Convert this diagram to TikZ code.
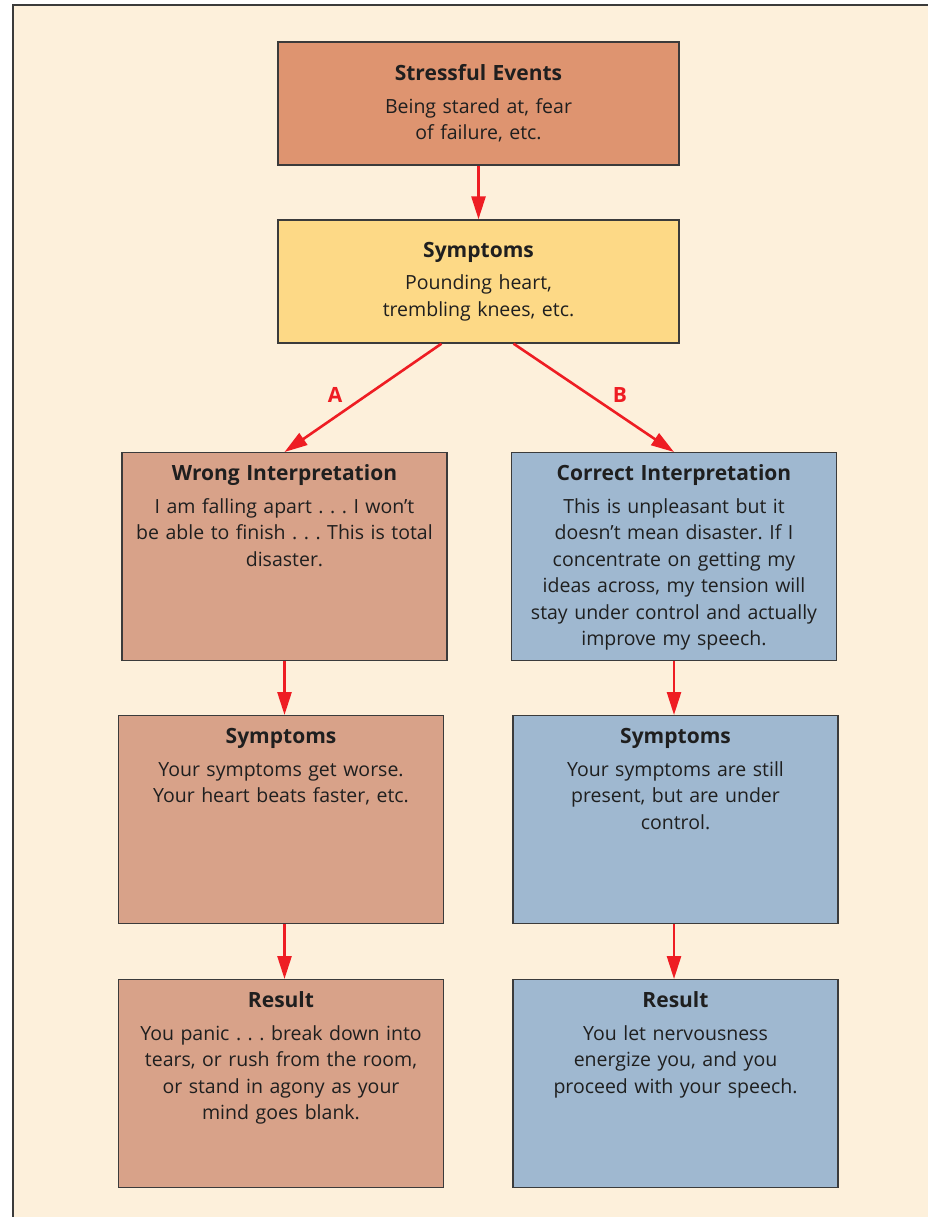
\documentclass[tikz,border=0pt]{standalone}
\usepackage{fontspec}
\setmainfont{Open Sans}
\usepackage{tikz}
\usetikzlibrary{arrows.meta}
\frenchspacing

\definecolor{bgcream}{HTML}{FDF0DB}
\definecolor{framegray}{HTML}{3B3B3B}
\definecolor{eventorange}{HTML}{DE9470}
\definecolor{symyellow}{HTML}{FDD986}
\definecolor{wrongbrown}{HTML}{D8A289}
\definecolor{rightblue}{HTML}{9FB8D0}
\definecolor{arrowred}{HTML}{EE1D23}
\newcommand{\boxtitle}[1]{{\fontsize{21}{26.5}\selectfont\bfseries #1}}

\tikzset{
	box/.style={draw=framegray, line width=1.3pt, rectangle, align=center, inner xsep=4pt,
		font=\fontsize{19.5}{26.5}\selectfont, text=black!88},
	widebox/.style={box, minimum width=401pt, minimum height=123pt, text width=393pt},
	tallbox/.style={box, anchor=north, minimum width=325pt, text width=317pt,
		inner ysep=6pt, text height=22pt, text depth=174pt},
	flow/.style={draw=arrowred, line width=2.6pt, -{Triangle[length=23pt,width=14pt]}},
	branch/.style={text=arrowred, font=\fontsize{21}{22}\selectfont\bfseries}
}

\begin{document}
\begin{tikzpicture}[x=1pt, y=-1pt]
	\path[use as bounding box] (0,0) rectangle (927,1217);
	\filldraw[fill=bgcream, draw=framegray, line width=2pt] (12.5,5.5) rectangle (940,1230);
	% top of the chart
	\node[widebox, fill=eventorange] (events) at (478.5,103.5) {\boxtitle{Stressful Events}\\[6pt]Being stared at, fear\\of failure, etc.};
	\node[widebox, fill=symyellow] (symptoms) at (478.5,281.5) {\boxtitle{Symptoms}\\[6pt]Pounding heart,\\trembling knees, etc.};
	% path A
	\node[tallbox, fill=wrongbrown] (wrong) at (284.5,452) {\boxtitle{Wrong Interpretation}\\[6pt]I am falling apart . . . I won’t\\be able to finish . . . This is total\\disaster.};
	\node[tallbox, fill=wrongbrown] (worse) at (281,715) {\boxtitle{Symptoms}\\[6pt]Your symptoms get worse.\\Your heart beats faster, etc.};
	\node[tallbox, fill=wrongbrown] (panic) at (281,979) {\boxtitle{Result}\\[6pt]You panic . . . break down into\\tears, or rush from the room,\\or stand in agony as your\\mind goes blank.};
	% path B
	\node[tallbox, fill=rightblue] (correct) at (674,452) {\boxtitle{Correct Interpretation}\\[6pt]This is unpleasant but it\\doesn’t mean disaster. If I\\concentrate on getting my\\ideas across, my tension will\\stay under control and actually\\improve my speech.};
	\node[tallbox, fill=rightblue] (control) at (675.5,715) {\boxtitle{Symptoms}\\[6pt]Your symptoms are still\\present, but are under\\control.};
	\node[tallbox, fill=rightblue] (proceed) at (675.5,979) {\boxtitle{Result}\\[6pt]You let nervousness\\energize you, and you\\proceed with your speech.};
	\node[branch] (labelA) at (335,395) {A};
	\node[branch] (labelB) at (620,395) {B};
	\draw[flow] (events) -- (symptoms);
	\draw[flow] ([xshift=-37pt]symptoms.south) -- (wrong.north);
	\draw[flow] ([xshift=35pt]symptoms.south) -- (correct.north);
	\draw[flow] (wrong.south) -- (wrong.south |- worse.north);
	\draw[flow] (wrong.south |- worse.south) -- (wrong.south |- panic.north);
	\draw[flow] (correct.south) -- (correct.south |- control.north);
	\draw[flow] (correct.south |- control.south) -- (correct.south |- proceed.north);
\end{tikzpicture}
\end{document}
